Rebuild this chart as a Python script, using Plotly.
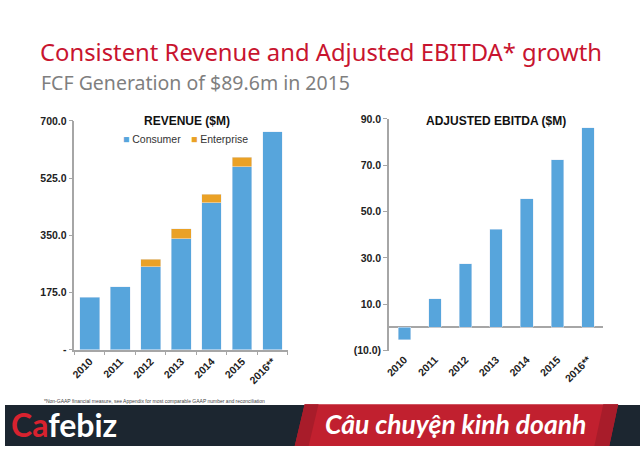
import plotly.graph_objects as go

# ---- data ----
years = ["2010", "2011", "2012", "2013", "2014", "2015", "2016**"]
consumer = [161, 193, 254, 340, 449, 560, 667]
enterprise = [None, None, 22, 30, 27, 28, None]
ebitda = [-5.3, 12.3, 27.5, 42.3, 55.5, 72.4, 86.2]

rev_ticks = [0, 175, 350, 525, 700]
rev_ticklabels = ["-", "175.0", "350.0", "525.0", "700.0"]
eb_ticks = [-10, 10, 30, 50, 70, 90]
eb_ticklabels = ["(10.0)", "10.0", "30.0", "50.0", "70.0", "90.0"]

BLUE = "#57a5dc"
ORANGE = "#eaa126"
RED = "#c8142f"
AXIS = "#a6a6a6"
W, H = 640, 452

def px(x):
    return x / W

def py(y):
    return 1 - y / H

fig = go.Figure()
fig.add_trace(go.Bar(x=years, y=consumer, name="Consumer", marker_color=BLUE,
                     xaxis="x", yaxis="y"))
fig.add_trace(go.Bar(x=years, y=enterprise, name="Enterprise", marker_color=ORANGE,
                     xaxis="x", yaxis="y"))
fig.add_trace(go.Bar(x=years, y=ebitda, name="Adjusted EBITDA", marker_color=BLUE,
                     xaxis="x2", yaxis="y2"))

bold10 = dict(family="Liberation Sans", size=10.5, color="#222222", weight="bold")

fig.update_layout(
    width=W, height=H,
    margin=dict(l=0, r=0, t=0, b=0),
    paper_bgcolor="white", plot_bgcolor="white",
    barmode="stack", bargap=0.35,
    showlegend=False,
    xaxis=dict(domain=[px(70), px(285)], anchor="y", type="category",
               range=[-0.5, 6.5], showline=True, linecolor=AXIS, linewidth=1.5,
               ticks="outside", tickson="boundaries", ticklen=4, tickcolor=AXIS,
               tickangle=-45, tickfont=bold10, showgrid=False, fixedrange=True),
    yaxis=dict(domain=[py(353), py(118)], anchor="x", range=[0, 700],
               tickvals=rev_ticks, ticktext=rev_ticklabels, showline=True,
               linecolor=AXIS, linewidth=1.5, ticks="outside", ticklen=4, tickcolor=AXIS,
               tickfont=bold10, showgrid=False, zeroline=False, fixedrange=True),
    xaxis2=dict(domain=[px(387), px(603)], anchor="y2", type="category",
                range=[-0.5, 6.5], showline=False, ticks="",
                tickangle=-45, tickfont=bold10, showgrid=False, fixedrange=True),
    xaxis3=dict(overlaying="x2", anchor="free", position=py(330.5), domain=[px(387), px(603)],
                range=[-0.5, 6.5], tickvals=[-0.5, 0.5, 1.5, 2.5, 3.5, 4.5, 5.5, 6.5],
                showticklabels=False, showline=True, linecolor=AXIS, linewidth=1.5,
                ticks="outside", ticklen=4, tickcolor=AXIS, showgrid=False, zeroline=False,
                fixedrange=True),
    yaxis2=dict(domain=[py(354), py(116)], anchor="x2", range=[-10, 90],
                tickvals=eb_ticks, ticktext=eb_ticklabels, showline=True,
                linecolor=AXIS, linewidth=1.5, ticks="outside", ticklen=4, tickcolor=AXIS,
                tickfont=bold10, showgrid=False, zeroline=True, zerolinecolor=AXIS,
                zerolinewidth=1.5, fixedrange=True),
)
fig.update_traces(selector=dict(xaxis="x2"), width=0.41)

def ann(text, x, y, xanchor="left", **font):
    return dict(text=text, x=px(x), y=py(y), xref="paper", yref="paper",
                xanchor=xanchor, yanchor="middle", showarrow=False, font=font)

annotations = [
    ann("Consistent Revenue and Adjusted EBITDA* growth", 33, 47,
        family="Noto Sans", size=23.8, color=RED),
    ann("FCF Generation of $89.6m in 2015", 34, 79,
        family="Noto Sans", size=19.5, color="#7f7f7f"),
    ann("REVENUE ($M)", 183, 118, "center",
        family="Liberation Sans", size=12, color="#111", weight="bold"),
    ann("ADJUSTED EBITDA ($M)", 495, 118, "center",
        family="Liberation Sans", size=12, color="#111", weight="bold"),
    ann(f"<span style='color:{BLUE}'>■</span> Consumer", 117, 137,
        family="Liberation Sans", size=10.5, color="#333"),
    ann(f"<span style='color:{ORANGE}'>■</span> Enterprise", 185, 137,
        family="Liberation Sans", size=10.5, color="#333"),
    ann("*Non-GAAP financial measure, see Appendix for most comparable GAAP number and reconciliation",
        37, 406, family="Liberation Sans", size=5, color="#444"),
    ann("<span style='color:#d8222f'>Ca</span>febiz", 4, 430,
        family="Lato", size=32, color="white", weight="bold"),
    ann("<i>Câu chuyện kinh doanh</i>", 454, 429, "center",
        family="Lato", size=26.5, color="white", weight="bold"),
]
fig.update_layout(annotations=annotations)

shapes = [
    dict(type="rect", xref="paper", yref="paper", x0=0, x1=1, y0=0, y1=py(410),
         fillcolor="#1c2630", line_width=0, layer="below"),
    dict(type="path", xref="paper", yref="paper",
         path=f"M {px(302)} {py(409)} L {px(618)} {py(409)} L {px(609)} {py(452)} L {px(292)} {py(452)} Z",
         fillcolor="#c1202f", line_width=0, layer="below"),
    dict(type="path", xref="paper", yref="paper",
         path=f"M {px(302)} {py(409)} L {px(316)} {py(409)} L {px(306)} {py(452)} L {px(292)} {py(452)} Z",
         fillcolor="#a81c2a", line_width=0, layer="below"),
    dict(type="path", xref="paper", yref="paper",
         path=f"M {px(603)} {py(409)} L {px(618)} {py(409)} L {px(609)} {py(452)} L {px(594)} {py(452)} Z",
         fillcolor="#a81c2a", line_width=0, layer="below"),
]
fig.update_layout(shapes=shapes)

fig.write_html("out.html", config={"displayModeBar": False},
               post_script="document.body.style.margin='0';document.body.style.padding='0';")
